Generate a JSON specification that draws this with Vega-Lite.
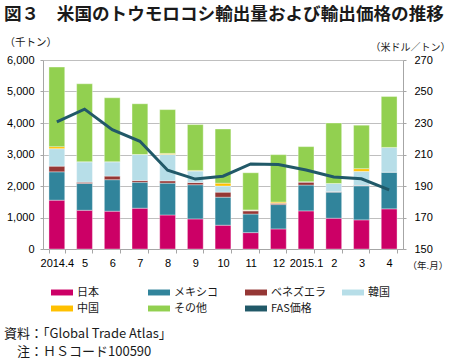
{
  "$schema": "https://vega.github.io/schema/vega-lite/v6.json",
  "padding": {"left": 4, "top": 5, "right": 0, "bottom": 0},
  "background": "white",
  "title": {
    "text": ["資料：「Global Trade Atlas」", "\u200b\u3000注：ＨＳコード100590"],
    "orient": "bottom", "anchor": "start", "frame": "bounds",
    "font": "Noto Sans CJK JP", "fontSize": 13, "fontWeight": "normal",
    "color": "#1a1a1a", "lineHeight": 18.5, "offset": 14
  },
  "datasets": {
    "bars": [
      {"month": "2014.4", "country": "日本", "value": 1550},
      {"month": "2014.4", "country": "メキシコ", "value": 900},
      {"month": "2014.4", "country": "ベネズエラ", "value": 180},
      {"month": "2014.4", "country": "韓国", "value": 555},
      {"month": "2014.4", "country": "中国", "value": 65},
      {"month": "2014.4", "country": "その他", "value": 2525},
      {"month": "5", "country": "日本", "value": 1230},
      {"month": "5", "country": "メキシコ", "value": 850},
      {"month": "5", "country": "ベネズエラ", "value": 40},
      {"month": "5", "country": "韓国", "value": 650},
      {"month": "5", "country": "中国", "value": 0},
      {"month": "5", "country": "その他", "value": 2475},
      {"month": "6", "country": "日本", "value": 1200},
      {"month": "6", "country": "メキシコ", "value": 1000},
      {"month": "6", "country": "ベネズエラ", "value": 115},
      {"month": "6", "country": "韓国", "value": 455},
      {"month": "6", "country": "中国", "value": 0},
      {"month": "6", "country": "その他", "value": 2030},
      {"month": "7", "country": "日本", "value": 1295},
      {"month": "7", "country": "メキシコ", "value": 825},
      {"month": "7", "country": "ベネズエラ", "value": 55},
      {"month": "7", "country": "韓国", "value": 825},
      {"month": "7", "country": "中国", "value": 0},
      {"month": "7", "country": "その他", "value": 1610},
      {"month": "8", "country": "日本", "value": 1080},
      {"month": "8", "country": "メキシコ", "value": 1010},
      {"month": "8", "country": "ベネズエラ", "value": 75},
      {"month": "8", "country": "韓国", "value": 840},
      {"month": "8", "country": "中国", "value": 30},
      {"month": "8", "country": "その他", "value": 1390},
      {"month": "9", "country": "日本", "value": 955},
      {"month": "9", "country": "メキシコ", "value": 1085},
      {"month": "9", "country": "ベネズエラ", "value": 70},
      {"month": "9", "country": "韓国", "value": 365},
      {"month": "9", "country": "中国", "value": 20},
      {"month": "9", "country": "その他", "value": 1455},
      {"month": "10", "country": "日本", "value": 755},
      {"month": "10", "country": "メキシコ", "value": 890},
      {"month": "10", "country": "ベネズエラ", "value": 160},
      {"month": "10", "country": "韓国", "value": 195},
      {"month": "10", "country": "中国", "value": 90},
      {"month": "10", "country": "その他", "value": 1720},
      {"month": "11", "country": "日本", "value": 520},
      {"month": "11", "country": "メキシコ", "value": 590},
      {"month": "11", "country": "ベネズエラ", "value": 100},
      {"month": "11", "country": "韓国", "value": 20},
      {"month": "11", "country": "中国", "value": 10},
      {"month": "11", "country": "その他", "value": 1180},
      {"month": "12", "country": "日本", "value": 637},
      {"month": "12", "country": "メキシコ", "value": 773},
      {"month": "12", "country": "ベネズエラ", "value": 45},
      {"month": "12", "country": "韓国", "value": 0},
      {"month": "12", "country": "中国", "value": 35},
      {"month": "12", "country": "その他", "value": 1505},
      {"month": "2015.1", "country": "日本", "value": 1210},
      {"month": "2015.1", "country": "メキシコ", "value": 820},
      {"month": "2015.1", "country": "ベネズエラ", "value": 95},
      {"month": "2015.1", "country": "韓国", "value": 10},
      {"month": "2015.1", "country": "中国", "value": 0},
      {"month": "2015.1", "country": "その他", "value": 1115},
      {"month": "2", "country": "日本", "value": 977},
      {"month": "2", "country": "メキシコ", "value": 828},
      {"month": "2", "country": "ベネズエラ", "value": 15},
      {"month": "2", "country": "韓国", "value": 260},
      {"month": "2", "country": "中国", "value": 0},
      {"month": "2", "country": "その他", "value": 1920},
      {"month": "3", "country": "日本", "value": 925},
      {"month": "3", "country": "メキシコ", "value": 1080},
      {"month": "3", "country": "ベネズエラ", "value": 15},
      {"month": "3", "country": "韓国", "value": 445},
      {"month": "3", "country": "中国", "value": 85},
      {"month": "3", "country": "その他", "value": 1380},
      {"month": "4", "country": "日本", "value": 1275},
      {"month": "4", "country": "メキシコ", "value": 1165},
      {"month": "4", "country": "ベネズエラ", "value": 0},
      {"month": "4", "country": "韓国", "value": 785},
      {"month": "4", "country": "中国", "value": 0},
      {"month": "4", "country": "その他", "value": 1615}
    ],
    "price": [
      {"month": "2014.4", "price": 230.7},
      {"month": "5", "price": 238.8},
      {"month": "6", "price": 225.8},
      {"month": "7", "price": 218.4},
      {"month": "8", "price": 200.0},
      {"month": "9", "price": 194.4},
      {"month": "10", "price": 196.2},
      {"month": "11", "price": 204.0},
      {"month": "12", "price": 203.7},
      {"month": "2015.1", "price": 200.2},
      {"month": "2", "price": 195.7},
      {"month": "3", "price": 194.6},
      {"month": "4", "price": 187.5}
    ]
  },
  "vconcat": [
    {
      "width": 360,
      "height": 189,
      "title": {
        "text": "図３　米国のトウモロコシ輸出量および輸出価格の推移",
        "anchor": "start", "frame": "bounds",
        "font": "Noto Sans CJK JP", "fontSize": 17.6, "fontWeight": "bold",
        "color": "#1a1a1a", "offset": 14
      },
      "layer": [
        {
          "data": {"name": "bars"},
          "transform": [
            {"calculate": "indexof(['日本','メキシコ','ベネズエラ','韓国','中国','その他'], datum.country)", "as": "stackOrder"}
          ],
          "mark": {"type": "bar", "stroke": "#ffffff", "strokeWidth": 0.6, "strokeOpacity": 0.6},
          "encoding": {
            "x": {
              "field": "month", "type": "nominal",
              "sort": ["2014.4", "5", "6", "7", "8", "9", "10", "11", "12", "2015.1", "2", "3", "4"],
              "scale": {"paddingInner": 0.43, "paddingOuter": 0.215},
              "axis": {
                "title": "（年.月）", "titleX": 364, "titleY": 19.5, "titleAlign": "left",
                "titleBaseline": "alphabetic", "titleFont": "Noto Sans CJK JP", "titleFontSize": 9.5,
                "titleFontWeight": "normal", "titleColor": "#1a1a1a",
                "labelAngle": 0, "labelFont": "Liberation Sans", "labelFontSize": 11,
                "labelColor": "#000000", "labelPadding": 4, "tickSize": 4, "tickBand": "extent",
                "tickColor": "#a6a6a6", "domainColor": "#a6a6a6", "grid": false
              }
            },
            "y": {
              "field": "value", "type": "quantitative", "stack": "zero",
              "scale": {"domain": [0, 6000], "nice": false},
              "axis": {
                "title": "（千トン）", "titleAngle": 0, "titleX": -39, "titleY": -14.5,
                "titleAlign": "left", "titleBaseline": "alphabetic", "titleFont": "Noto Sans CJK JP",
                "titleFontSize": 10.5, "titleFontWeight": "normal", "titleColor": "#1a1a1a",
                "values": [0, 1000, 2000, 3000, 4000, 5000, 6000], "format": ",.0f",
                "labelFont": "Liberation Sans", "labelFontSize": 11, "labelColor": "#000000",
                "labelPadding": 6, "tickSize": 3, "tickColor": "#a6a6a6", "domainColor": "#a6a6a6",
                "gridColor": "#bfbfbf", "grid": true
              }
            },
            "order": {"field": "stackOrder", "type": "quantitative", "sort": "ascending"},
            "color": {
              "field": "country", "type": "nominal",
              "scale": {
                "domain": ["日本", "メキシコ", "ベネズエラ", "韓国", "中国", "その他", "FAS価格"],
                "range": ["#cc0066", "#31849b", "#953735", "#b7dee8", "#ffc000", "#92d050", "#215968"]
              },
              "legend": {
                "orient": "none", "legendX": 8, "legendY": 221.5, "direction": "horizontal",
                "columns": 4, "title": null, "gridAlign": "all", "columnPadding": 16, "rowPadding": -1,
                "symbolType": "M-1,-0.27L1,-0.27L1,0.27L-1,0.27Z", "symbolSize": 484,
                "symbolStrokeWidth": 0, "labelFont": "Noto Sans CJK JP", "labelFontSize": 11,
                "labelColor": "#1a1a1a", "labelOffset": 4,
                "encode": {
                  "symbols": {
                    "update": {
                      "shape": {"signal": "datum.value === 'FAS価格' ? 'M-1,-0.1L1,-0.1L1,0.1L-1,0.1Z' : 'M-1,-0.27L1,-0.27L1,0.27L-1,0.27Z'"},
                      "fill": {"scale": "color", "field": "value"},
                      "stroke": {"value": "transparent"},
                      "opacity": {"value": 1}
                    }
                  }
                }
              }
            }
          }
        },
        {
          "data": {"name": "price"},
          "mark": {"type": "line", "strokeWidth": 3},
          "encoding": {
            "x": {"field": "month", "type": "nominal", "sort": ["2014.4", "5", "6", "7", "8", "9", "10", "11", "12", "2015.1", "2", "3", "4"]},
            "y": {
              "field": "price", "type": "quantitative",
              "scale": {"domain": [150, 270], "nice": false, "zero": false},
              "axis": {
                "orient": "right", "title": "（米ドル／トン）", "titleAngle": 0, "titleX": -33, "titleY": -10,
                "titleAlign": "left", "titleBaseline": "alphabetic", "titleFont": "Noto Sans CJK JP",
                "titleFontSize": 10, "titleFontWeight": "normal", "titleColor": "#1a1a1a",
                "values": [150, 170, 190, 210, 230, 250, 270],
                "labelFont": "Liberation Sans", "labelFontSize": 11, "labelColor": "#000000",
                "labelPadding": 8, "tickSize": 3, "tickColor": "#a6a6a6", "domainColor": "#a6a6a6",
                "grid": false
              }
            },
            "color": {"datum": "FAS価格", "type": "nominal"}
          }
        }
      ],
      "resolve": {"scale": {"y": "independent"}}
    }
  ],
  "config": {"view": {"stroke": null}, "concat": {"spacing": 0}}
}
